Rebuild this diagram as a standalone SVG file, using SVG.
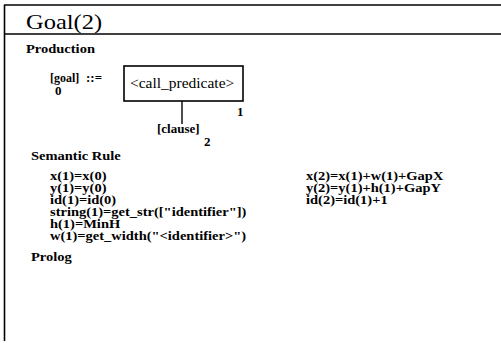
<svg xmlns="http://www.w3.org/2000/svg" width="501" height="343" viewBox="0 0 501 343">
<style>
text{font-family:"Liberation Serif","Times New Roman",serif;fill:#000}
.b{font-weight:bold;font-size:14.5px}
.t{font-size:24.5px}
.r{font-weight:bold;font-size:14.5px}
.s{font-weight:bold;font-size:13px}
.frame{stroke:#000;stroke-width:1.6;fill:none}
.conn{stroke:#000;stroke-width:1.4;fill:none}
</style>
<rect x="0" y="0" width="501" height="343" fill="#fff"/>
<g id="frame">
<line class="frame" x1="4" y1="5" x2="501" y2="5"/>
<line class="frame" x1="4.5" y1="5" x2="4.5" y2="341"/>
<line class="frame" x1="4" y1="34" x2="501" y2="34"/>
<text class="t" transform="translate(26 29) scale(1 0.85)">Goal(2)</text>
</g>
<g id="production">
<text class="b" transform="translate(26 53) scale(1 0.88)">Production</text>
</g>
<g id="goal">
<text class="s" transform="translate(50 82) scale(0.92 0.9)">[goal]</text>
<text class="s" transform="translate(86 82) scale(1 0.9)">::=</text>
<text class="s" transform="translate(55 95) scale(1 0.9)">0</text>
</g>
<g id="call_predicate">
<rect x="124" y="66" width="119" height="35" fill="none" stroke="#000" stroke-width="1.6"/>
<text transform="translate(130 88) scale(1 0.88)" style="font-weight:normal;font-size:15.5px">&lt;call_predicate&gt;</text>
<text class="s" transform="translate(237 116) scale(1 0.9)">1</text>
</g>
<g id="connectors">
<line class="conn" x1="182" y1="101" x2="182" y2="124"/>
</g>
<g id="clause">
<text class="s" transform="translate(157 133) scale(1 0.9)">[clause]</text>
<text class="s" transform="translate(204 146) scale(1 0.9)">2</text>
</g>
<g id="semantic">
<text class="b" transform="translate(31 160) scale(1 0.88)">Semantic Rule</text>
<text class="r" transform="translate(50 180) scale(1 0.85)">x(1)=x(0)</text>
<text class="r" transform="translate(50 192) scale(1 0.85)">y(1)=y(0)</text>
<text class="r" transform="translate(50 204) scale(1 0.85)">id(1)=id(0)</text>
<text class="r" transform="translate(50 216) scale(1 0.85)">string(1)=get_str(["identifier"])</text>
<text class="r" transform="translate(50 228) scale(1 0.85)">h(1)=MinH</text>
<text class="r" transform="translate(50 240) scale(1 0.85)">w(1)=get_width("&lt;identifier&gt;")</text>
<text class="r" transform="translate(306 180) scale(1 0.85)">x(2)=x(1)+w(1)+GapX</text>
<text class="r" transform="translate(306 192) scale(1 0.85)">y(2)=y(1)+h(1)+GapY</text>
<text class="r" transform="translate(306 204) scale(1 0.85)">id(2)=id(1)+1</text>
</g>
<g id="prolog">
<text class="b" transform="translate(31 261) scale(1 0.88)">Prolog</text>
</g>
</svg>
